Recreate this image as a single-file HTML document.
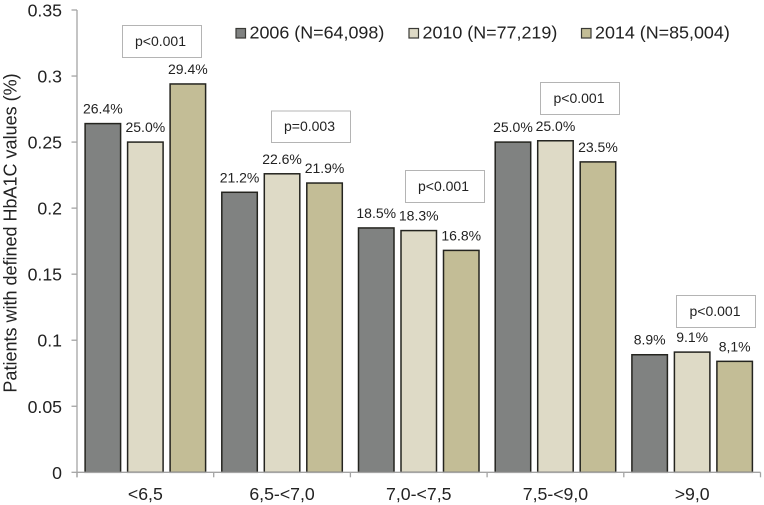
<!DOCTYPE html>
<html lang="en">
<head>
<meta charset="utf-8">
<title>HbA1C distribution</title>
<style>
html,body{margin:0;padding:0;background:#fff;}
svg{display:block;font-family:"Liberation Sans",Arial,sans-serif;fill:#222;}
</style>
</head>
<body>
<svg id="chart" xmlns="http://www.w3.org/2000/svg" width="764" height="505" viewBox="0 0 764 505">
  <text transform="translate(16.5,233) rotate(-90)" text-anchor="middle" font-size="18">Patients with defined HbA1C values (%)</text>
  <g id="bars"></g>
  <g id="axes"></g>
  <g id="labels"></g>
  <g id="legend"></g>
  <g font-size="14" text-anchor="middle">
    <rect x="122.5" y="25.5" width="79" height="32" fill="#fff" stroke="#b4b4b4" stroke-width="1"/>
    <text x="160.5" y="46">p&lt;0.001</text>
    <rect x="271.5" y="111" width="79" height="31.5" fill="#fff" stroke="#b4b4b4" stroke-width="1"/>
    <text x="309.5" y="131">p=0.003</text>
    <rect x="405.5" y="170.5" width="79" height="32" fill="#fff" stroke="#b4b4b4" stroke-width="1"/>
    <text x="443.5" y="191">p&lt;0.001</text>
    <rect x="540.5" y="82.5" width="79" height="32" fill="#fff" stroke="#b4b4b4" stroke-width="1"/>
    <text x="579" y="103">p&lt;0.001</text>
    <rect x="676.5" y="295.5" width="79" height="32" fill="#fff" stroke="#b4b4b4" stroke-width="1"/>
    <text x="715" y="316">p&lt;0.001</text>
  </g>
</svg>
<script>
const categories = ["<6,5", "6,5-<7,0", "7,0-<7,5", "7,5-<9,0", ">9,0"];
const seriesNames = ["2006 (N=64,098)", "2010 (N=77,219)", "2014 (N=85,004)"];
const values2006 = [0.264, 0.212, 0.185, 0.25, 0.089];
const values2010 = [0.25, 0.226, 0.183, 0.251, 0.091];
const values2014 = [0.294, 0.219, 0.168, 0.235, 0.084];
const labels2006 = ["26.4%", "21.2%", "18.5%", "25.0%", "8.9%"];
const labels2010 = ["25.0%", "22.6%", "18.3%", "25.0%", "9.1%"];
const labels2014 = ["29.4%", "21.9%", "16.8%", "23.5%", "8,1%"];
const yTicks = [0, 0.05, 0.1, 0.15, 0.2, 0.25, 0.3, 0.35];
const yTickLabels = ["0", "0.05", "0.1", "0.15", "0.2", "0.25", "0.3", "0.35"];

const seriesValues = [values2006, values2010, values2014];
const seriesLabels = [labels2006, labels2010, labels2014];
const seriesColors = ["#808281", "#dedac6", "#c3bd96"];
const legendStarts = [236, 409, 581.5];

const NS = "http://www.w3.org/2000/svg";
const plotLeft = 77, plotRight = 760.5, plotTop = 10, plotBottom = 472.3, yMax = 0.35;
const catWidth = (plotRight - plotLeft) / categories.length;
const barWidth = 35.5, barStep = 42.5;

function yScale(v) { return plotBottom - (v / yMax) * (plotBottom - plotTop); }
function catLeft(i) { return plotLeft + i * catWidth; }
function barCenter(i, s) { return catLeft(i) + catWidth / 2 + (s - 1) * barStep; }
function make(tag, attrs, parent, text) {
  const el = document.createElementNS(NS, tag);
  for (const k in attrs) el.setAttribute(k, attrs[k]);
  if (text !== undefined) el.textContent = text;
  parent.appendChild(el);
  return el;
}

const barsG = document.getElementById("bars");
const axesG = document.getElementById("axes");
const labelsG = document.getElementById("labels");
const legendG = document.getElementById("legend");

seriesValues.forEach(function (vals, s) {
  vals.forEach(function (v, i) {
    const y = yScale(v);
    const bar = make("rect", {x: barCenter(i, s) - barWidth / 2, y: y, width: barWidth, height: plotBottom - y, fill: seriesColors[s], stroke: "#24241f", "stroke-width": 1.5}, barsG);
    
    
    const lab = make("text", {x: barCenter(i, s), y: y - 10, "text-anchor": "middle", "font-size": 14}, labelsG, seriesLabels[s][i]);
    
    
  });
  const sw = make("rect", {x: legendStarts[s], y: 28.5, width: 9.5, height: 9.5, fill: seriesColors[s], stroke: "#3a3a36", "stroke-width": 1.2}, legendG);
  
  
  const lt = make("text", {x: legendStarts[s] + 13.5, y: 38.5, "font-size": 17.9}, legendG, seriesNames[s]);
  
  
});

const axisStyle = {stroke: "#a4a4a4", "stroke-width": 1.3};
const yAxis = make("line", Object.assign({x1: plotLeft, x2: plotLeft, y1: plotTop, y2: plotBottom + 5}, axisStyle), axesG);


const xAxis = make("line", Object.assign({x1: plotLeft, x2: plotRight, y1: plotBottom, y2: plotBottom}, axisStyle), axesG);



yTicks.forEach(function (t, i) {
  const y = yScale(t);
  const tick = make("line", Object.assign({x1: plotLeft - 5.5, x2: plotLeft, y1: y, y2: y}, axisStyle), axesG);
  
  
  const lab = make("text", {x: 62, y: y + 6.5, "text-anchor": "end", "font-size": 17.7}, axesG, yTickLabels[i]);
  
  
});

categories.forEach(function (c, i) {
  const lab = make("text", {x: catLeft(i) + catWidth / 2, y: 500, "text-anchor": "middle", "font-size": 17.7}, axesG, c);
  
  
});
categories.concat([""]).forEach(function (c, i) {
  const x = catLeft(i);
  const tick = make("line", Object.assign({x1: x, x2: x, y1: plotBottom, y2: plotBottom + 5}, axisStyle), axesG);
  
  
});
</script>
</body>
</html>
